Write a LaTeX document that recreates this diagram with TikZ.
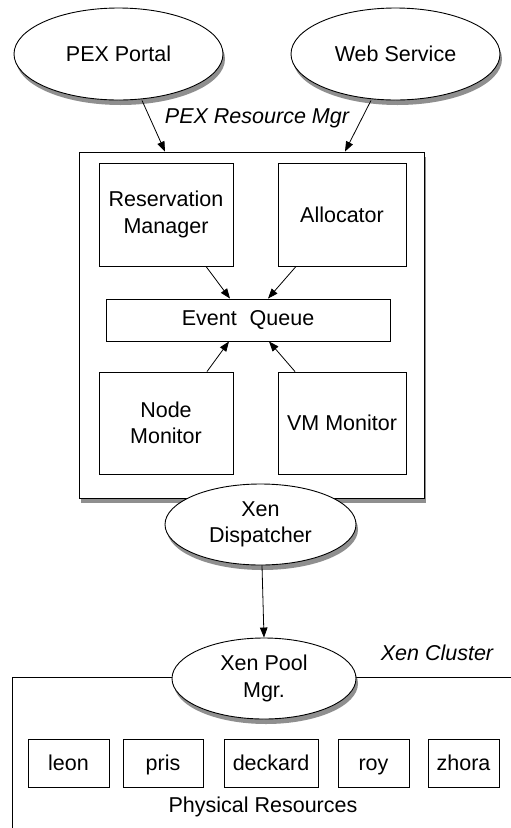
\documentclass[tikz,border=0pt]{standalone}
\usepackage{fontspec}
\setmainfont{Liberation Sans}
\usetikzlibrary{shapes.geometric,shadows,arrows.meta}
\tikzset{
  base/.style={draw=black, line width=0.9pt, fill=white, inner sep=0pt, align=center,
    font=\fontsize{21.5}{26.5}\selectfont},
  shad/.style={drop shadow={shadow xshift=2pt, shadow yshift=-5pt, opacity=0.55, fill=black!80}},
  oval/.style={base, ellipse, shad},
  outerbox/.style={base, rectangle, shad},
  box/.style={base, rectangle},
  host/.style={box, minimum height=48pt, text height=17.5pt, text depth=2.5pt},
  lbl/.style={font=\fontsize{21.5}{26.5}\selectfont\itshape, inner sep=0pt},
  txt/.style={font=\fontsize{21.5}{26.5}\selectfont, inner sep=0pt},
  conn/.style={line width=0.8pt, -{Triangle[length=10pt,width=7.5pt]}}
}
\begin{document}
\begin{tikzpicture}[x=1pt,y=1pt]
\clip (0,0) rectangle (511,-828);
\fill[white] (0,0) rectangle (511,-828);
% top ellipses
\node[oval, minimum width=209pt, minimum height=92pt] (pex) at (118.5,-54) {PEX Portal};
\node[oval, minimum width=209pt, minimum height=92pt] (web) at (395.5,-54) {Web Service};
\node[lbl] (pexlbl) at (257,-118) {PEX Resource Mgr};
% resource manager box
\node[outerbox, minimum width=345pt, minimum height=346pt] (big) at (251.5,-325) {};
\node[box, minimum width=134pt, minimum height=103pt] (res) at (166,-214.5) {Reservation\\Manager};
\node[box, minimum width=128pt, minimum height=103pt] (alloc) at (342,-214.5) {Allocator};
\node[box, minimum width=284pt, minimum height=42pt] (eq) at (248,-320) {Event\hspace{0.6em}Queue};
\node[box, minimum width=134pt, minimum height=102pt] (nodemon) at (166,-423) {Node\\Monitor};
\node[box, minimum width=128pt, minimum height=102pt] (vmmon) at (342,-423) {VM Monitor};
% dispatcher
\node[oval, minimum width=191pt, minimum height=81pt] (xd) at (260.5,-524.5) {Xen\\Dispatcher};
% cluster
\node[outerbox, minimum width=528pt, minimum height=183pt] (cluster) at (276,-768.5) {};
\node[oval, minimum width=184pt, minimum height=81pt] (xpm) at (264,-678.5) {Xen Pool\\Mgr.};
\node[lbl] (clusterlbl) at (437,-653) {Xen Cluster};
\node[host, minimum width=81pt] (leon) at (68.5,-763) {leon};
\node[host, minimum width=80pt] (pris) at (163,-763) {pris};
\node[host, minimum width=94pt] (deckard) at (271,-763) {deckard};
\node[host, minimum width=71pt] (roy) at (373.5,-763) {roy};
\node[host, minimum width=71pt] (zhora) at (463.5,-763) {zhora};
\node[txt] (phys) at (263,-807) {Physical Resources};
% connectors
\draw[conn] ([xshift=23.5pt]pex.south) -- ([xshift=-86.5pt]big.north);
\draw[conn] ([xshift=-24.5pt]web.south) -- ([xshift=93.5pt]big.north);
\draw[conn] ([xshift=40pt]res.south) -- ([xshift=-18pt]eq.north);
\draw[conn] ([xshift=-46pt]alloc.south) -- ([xshift=20pt]eq.north);
\draw[conn] ([xshift=41pt]nodemon.north) -- ([xshift=-19pt]eq.south);
\draw[conn] ([xshift=-47pt]vmmon.north) -- ([xshift=21pt]eq.south);
\draw[conn] ([xshift=1.5pt]xd.south) -- (xpm.north);
\end{tikzpicture}
\end{document}
